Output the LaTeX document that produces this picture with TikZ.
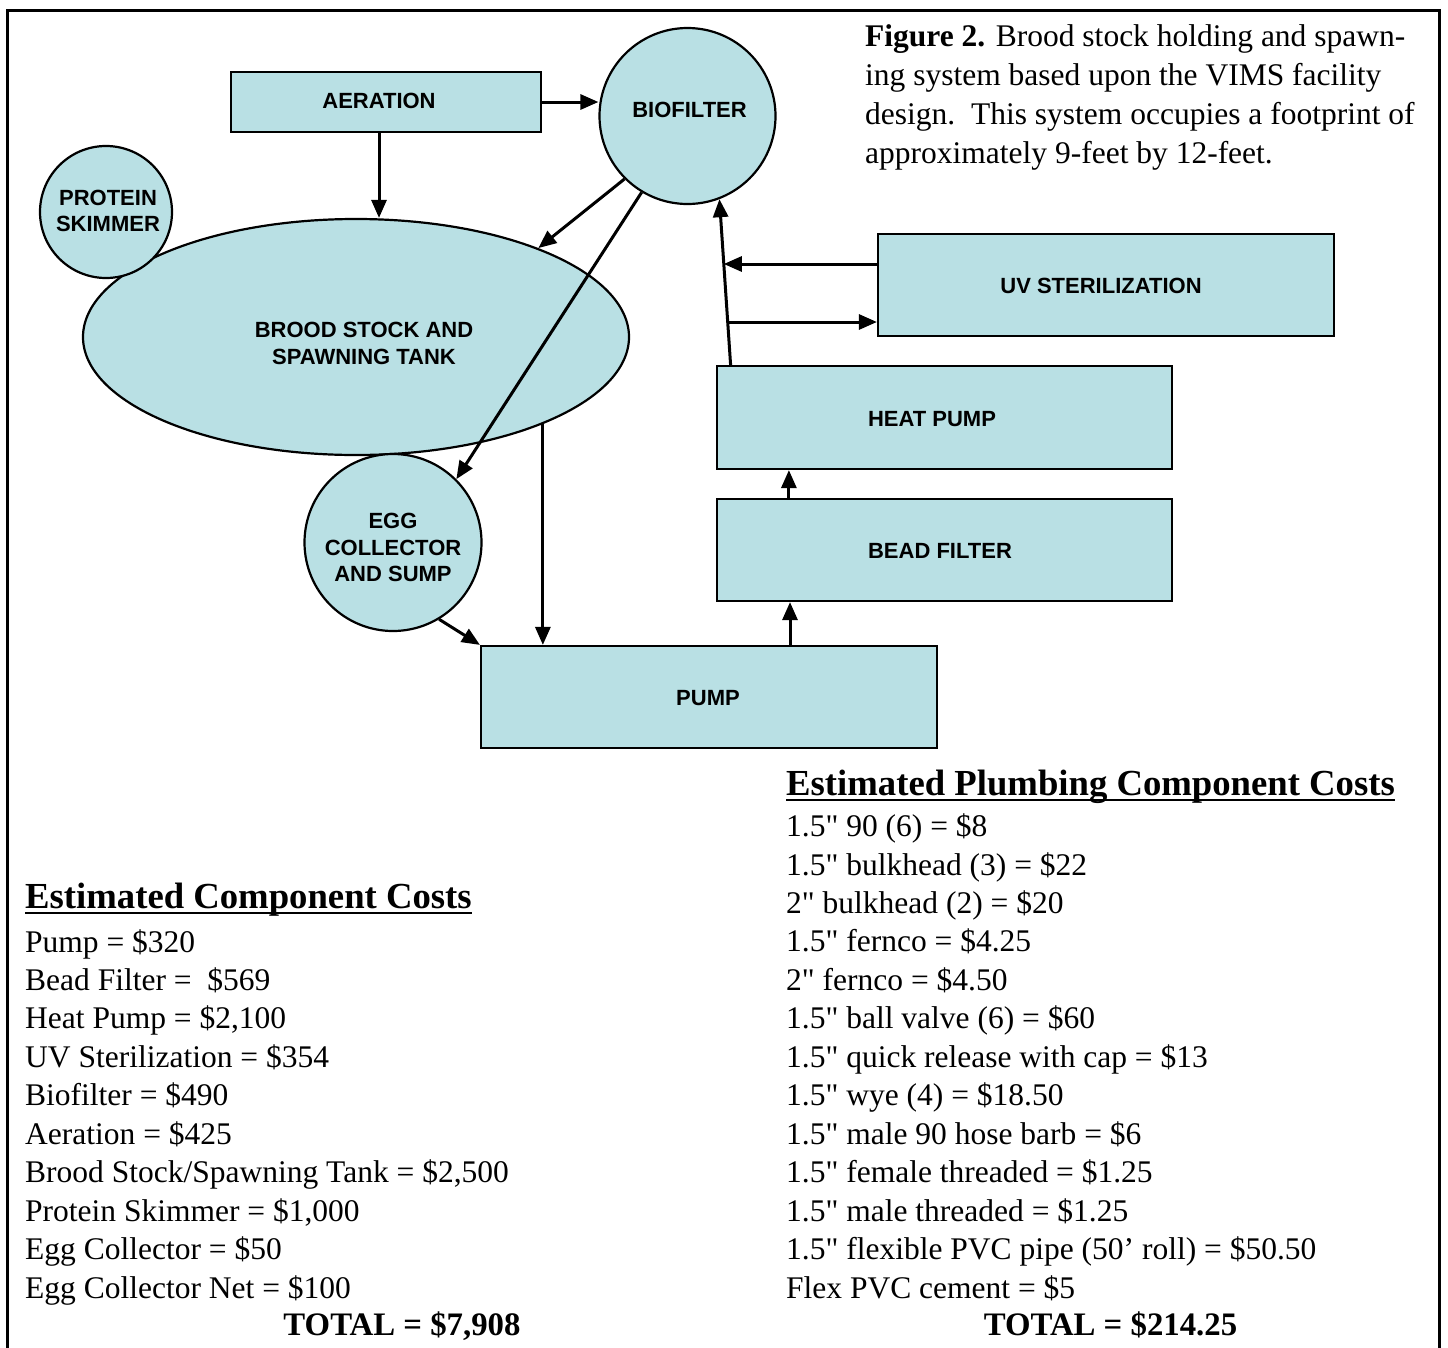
\documentclass[tikz,border=0pt]{standalone}
\usepackage{fontspec}
\setmainfont{Liberation Serif}[Ligatures=TeXOff]
\newfontfamily\boxfont{Liberation Sans}
\usetikzlibrary{shapes.geometric,arrows.meta,calc}
\definecolor{tankfill}{RGB}{185,224,228}
\begin{document}
\begin{tikzpicture}[x=1pt,y=-1pt,
  shapebox/.style={draw=black, line width=2.2pt, fill=tankfill, rectangle, inner sep=0pt},
  shapeoval/.style={draw=black, line width=2.2pt, fill=tankfill, ellipse, inner sep=0pt},
  lbl/.style={font=\boxfont\bfseries\fontsize{22}{26.5}\selectfont, align=center, inner sep=0pt},
  flow/.style={line width=3pt, -{Triangle[length=18pt,width=15pt]}},
  body/.style={font=\fontsize{31.5}{38.45}\selectfont, anchor=base west, inner sep=0pt},
  hdr/.style={font=\bfseries\fontsize{36.7}{44}\selectfont, anchor=base west, inner sep=0pt},
  tot/.style={font=\bfseries\fontsize{32.8}{38.45}\selectfont, anchor=base, inner sep=0pt},
  uline/.style={line width=2pt}]
\useasboundingbox (0,0) rectangle (1448,1347);
% frame
\draw[line width=3pt] (7,1352) -- (7,10) -- (1439,10) -- (1439,1352);

% shapes
\node[shapeoval, minimum width=546pt, minimum height=236pt,
  label={[lbl,xshift=8pt,yshift=-6.5pt]center:{BROOD STOCK AND\\SPAWNING TANK}}] (brood) at (356,337) {};
\node[shapeoval, minimum width=132pt, minimum height=132pt,
  label={[lbl,xshift=2pt,yshift=1pt]center:{PROTEIN\\SKIMMER}}] (prot) at (106,212) {};
\node[shapeoval, minimum width=176pt, minimum height=176pt,
  label={[lbl,xshift=2pt,yshift=6pt]center:BIOFILTER}] (bio) at (687.5,116) {};
\node[shapeoval, minimum width=177pt, minimum height=177pt,
  label={[lbl,yshift=-5pt]center:{EGG\\COLLECTOR\\AND SUMP}}] (egg) at (393,542.5) {};
\node[shapebox, minimum width=310pt, minimum height=60pt,
  label={[lbl,xshift=-7pt,yshift=1pt]center:AERATION}] (aer) at (386,102) {};
\node[shapebox, minimum width=456pt, minimum height=102pt,
  label={[lbl,xshift=-5pt,yshift=-1pt]center:UV STERILIZATION}] (uv) at (1106,285) {};
\node[shapebox, minimum width=455pt, minimum height=103pt,
  label={[lbl,xshift=-12.5pt,yshift=-1.5pt]center:HEAT PUMP}] (heat) at (944.5,417.5) {};
\node[shapebox, minimum width=455pt, minimum height=102pt,
  label={[lbl,xshift=-4.5pt,yshift=-1pt]center:BEAD FILTER}] (bead) at (944.5,550) {};
\node[shapebox, minimum width=456pt, minimum height=102pt,
  label={[lbl,xshift=-1pt,yshift=-1pt]center:PUMP}] (pump) at (709,697) {};

% connectors
\draw[flow] (aer.east) -- (aer.east -| bio.west);
\draw[flow] ([xshift=-7pt]aer.south) -- ([xshift=-7pt]aer.south |- brood.north);
\draw[flow] (bio.225) -- (brood.26);
\draw[flow] (bio.239.5) -- (egg.45);
\draw[flow] (egg.-59) -- (pump.north west);
\draw[flow] (brood.-25) -- (brood.-25 |- pump.north);
\draw[flow] ([xshift=81pt]pump.north) -- ([xshift=81pt]pump.north |- bead.south);
\draw[flow] ([xshift=73pt]bead.north west) -- ([xshift=73pt]bead.north west |- heat.south);
\coordinate (hpTop) at ([xshift=14.7pt]heat.north west);
\draw[flow] (hpTop) -- (bio.291.5);
\coordinate (lnA) at ($(hpTop)!0.608!(bio.291.5)$);
\coordinate (lnB) at ($(hpTop)!0.265!(bio.291.5)$);
\coordinate (uvA) at ([yshift=21pt]uv.west);
\coordinate (uvB) at ([yshift=-37pt]uv.west);
\draw[flow] (uvA) -- (uvA -| lnA);
\draw[flow] (uvB -| lnB) -- (uvB);

% caption
\node[body] (cap1) at (865,46.7) {\textbf{Figure 2.} Brood stock holding and spawn-};
\node[body] (cap2) at (865,85.7) {ing system based upon the VIMS facility};
\node[body] (cap3) at (865,124.7) {design.\ \ This system occupies a footprint of};
\node[body] (cap4) at (865,163.7) {approximately 9-feet by 12-feet.};

% left list
\node[hdr] (hdrL) at (25,908) {Estimated Component Costs};
\draw[uline] ([yshift=-5pt]hdrL.base west) -- ([yshift=-5pt]hdrL.base east);
\node[body] (l1) at (25,952) {Pump = \$320};
\node[body] (l2) at (25,990.45) {Bead Filter = \ \$569};
\node[body] (l3) at (25,1028.9) {Heat Pump = \$2,100};
\node[body] (l4) at (25,1067.35) {UV Sterilization = \$354};
\node[body] (l5) at (25,1105.8) {Biofilter = \$490};
\node[body] (l6) at (25,1144.25) {Aeration = \$425};
\node[body] (l7) at (25,1182.7) {Brood Stock/Spawning Tank = \$2,500};
\node[body] (l8) at (25,1221.15) {Protein Skimmer = \$1,000};
\node[body] (l9) at (25,1259.6) {Egg Collector = \$50};
\node[body] (l10) at (25,1298.05) {Egg Collector Net = \$100};
\node[tot] (totL) at (402,1335) {TOTAL = \$7,908};

% right list
\node[hdr] (hdrR) at (786,795) {Estimated Plumbing Component Costs};
\draw[uline] ([yshift=-5pt]hdrR.base west) -- ([yshift=-5pt]hdrR.base east);
\node[body] (r1) at (786,836.6) {1.5" 90 (6) = \$8};
\node[body] (r2) at (786,875.05) {1.5" bulkhead (3) = \$22};
\node[body] (r3) at (786,913.5) {2" bulkhead (2) = \$20};
\node[body] (r4) at (786,951.95) {1.5" fernco = \$4.25};
\node[body] (r5) at (786,990.4) {2" fernco = \$4.50};
\node[body] (r6) at (786,1028.85) {1.5" ball valve (6) = \$60};
\node[body] (r7) at (786,1067.3) {1.5" quick release with cap = \$13};
\node[body] (r8) at (786,1105.75) {1.5" wye (4) = \$18.50};
\node[body] (r9) at (786,1144.2) {1.5" male 90 hose barb = \$6};
\node[body] (r10) at (786,1182.65) {1.5" female threaded = \$1.25};
\node[body] (r11) at (786,1221.1) {1.5" male threaded = \$1.25};
\node[body] (r12) at (786,1259.55) {1.5" flexible PVC pipe (50’ roll) = \$50.50};
\node[body] (r13) at (786,1298) {Flex PVC cement = \$5};
\node[tot] (totR) at (1110.5,1335) {TOTAL = \$214.25};
\end{tikzpicture}
\end{document}
